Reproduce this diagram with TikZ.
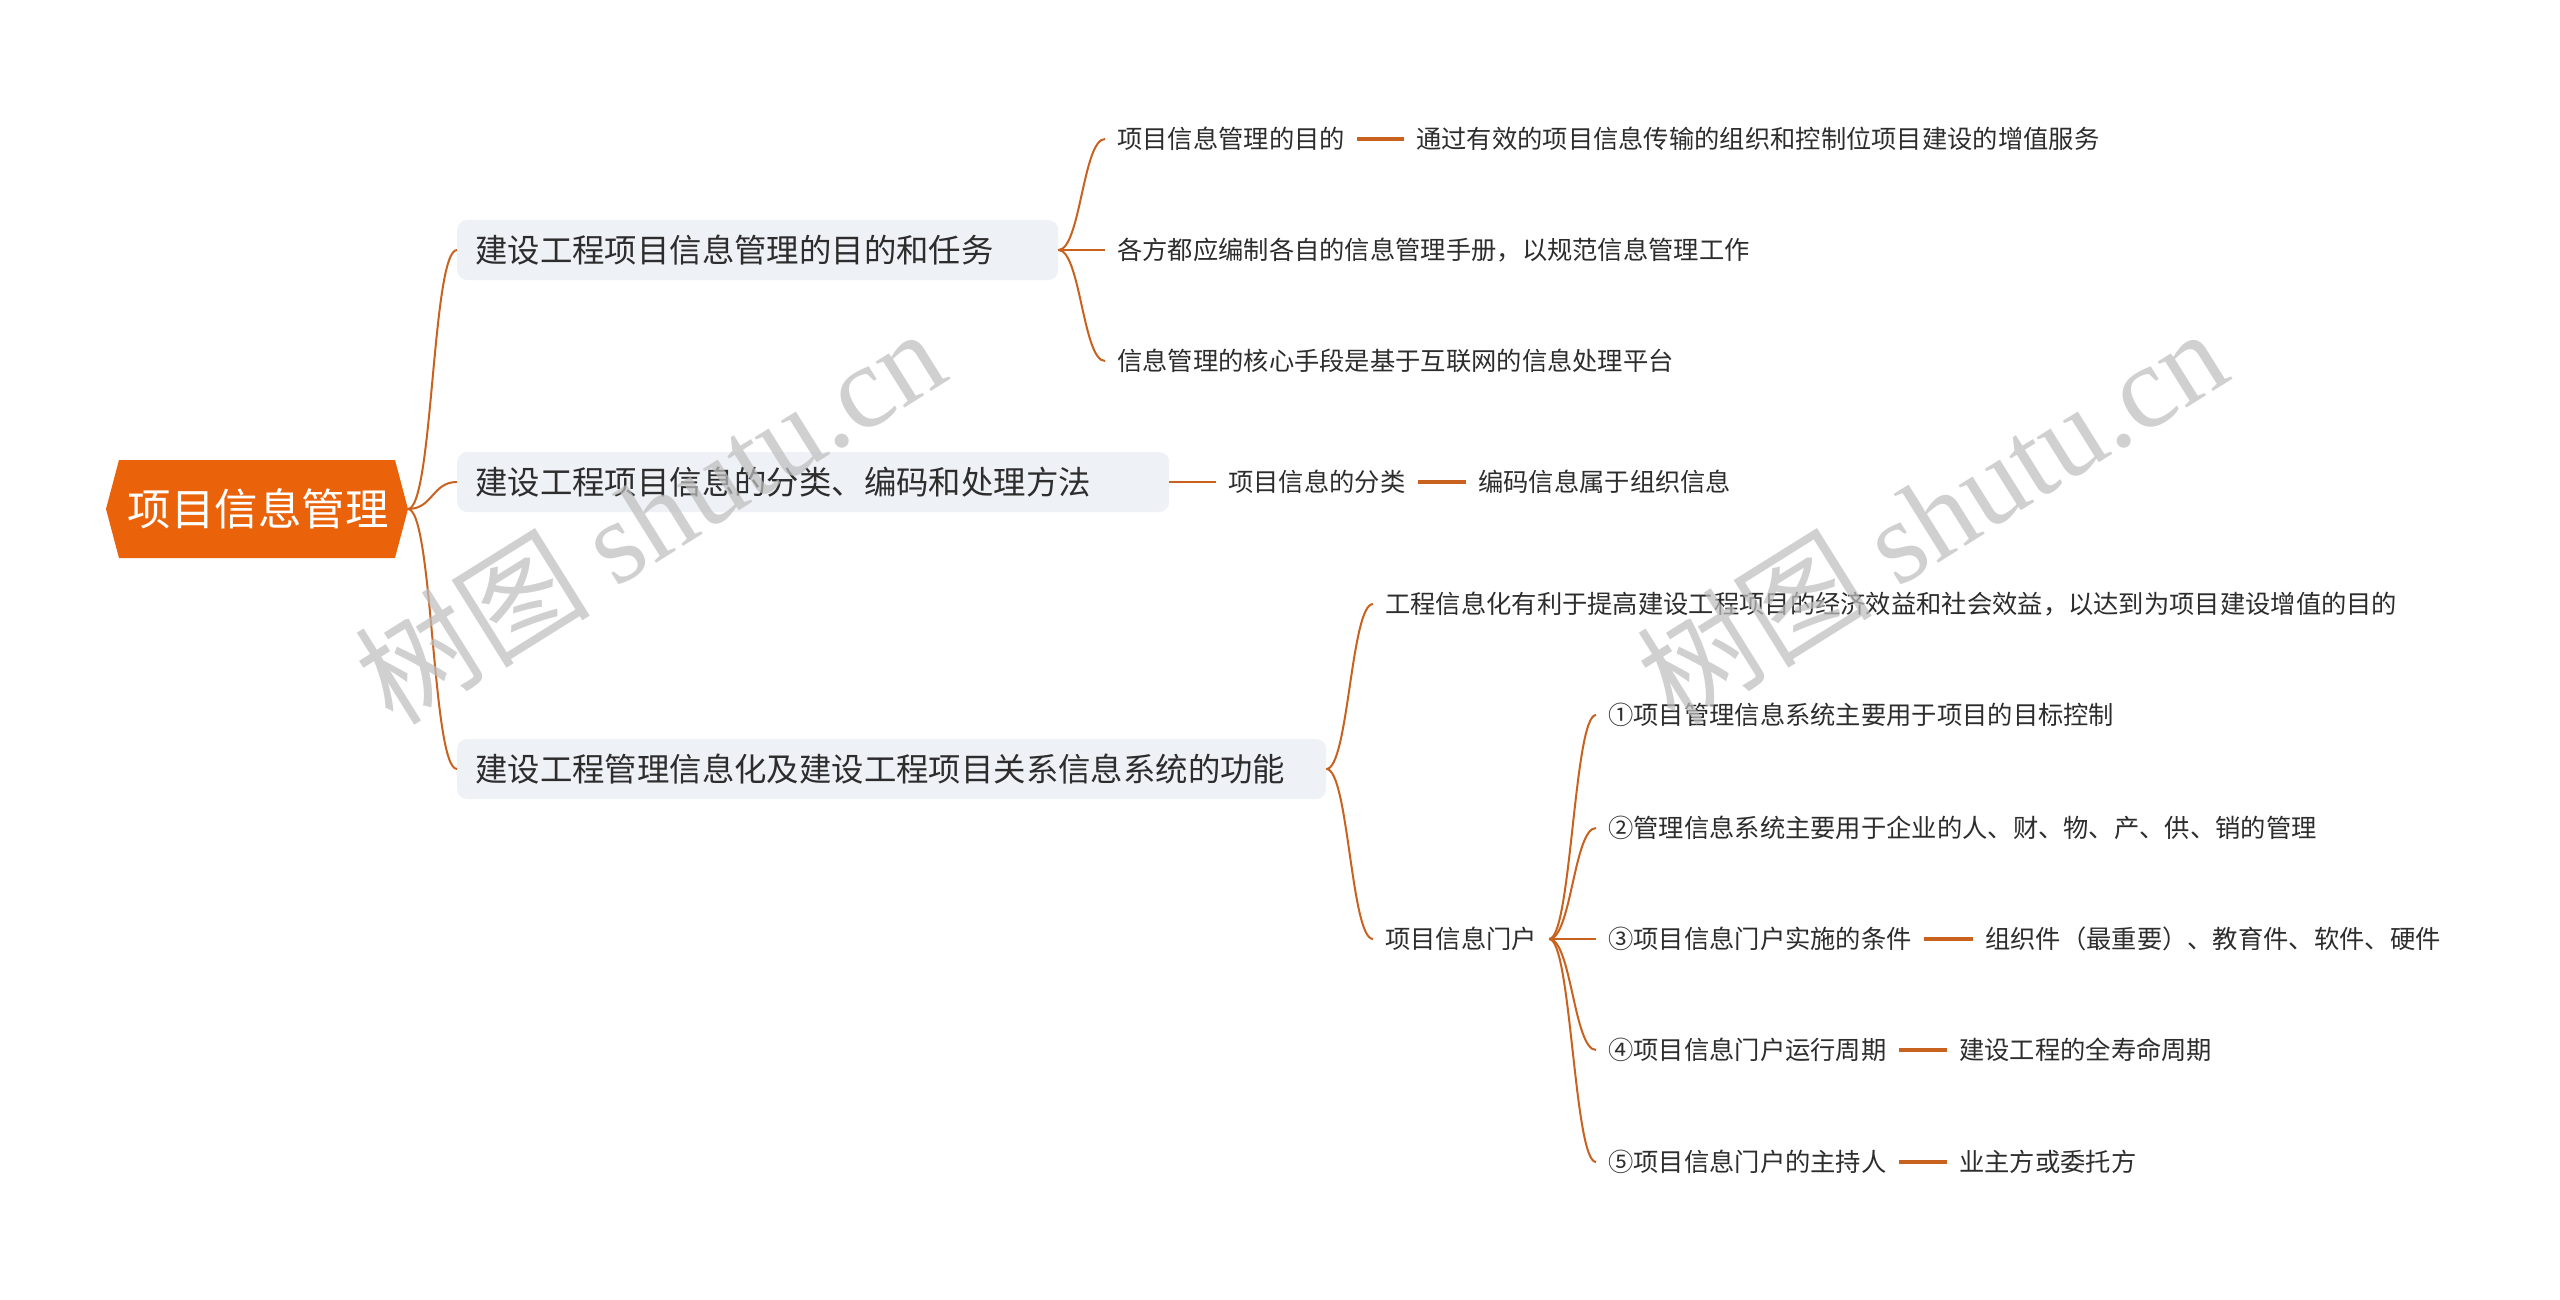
\documentclass[tikz,border=0pt]{standalone}
\usepackage{fontspec}
\setmainfont{Noto Sans CJK SC}
\newfontfamily\wmlatin{Liberation Serif}
\usetikzlibrary{calc}
\definecolor{rootorange}{RGB}{234,98,10}
\definecolor{linec}{RGB}{200,98,30}
\definecolor{boxgray}{RGB}{238,241,245}
\definecolor{textc}{RGB}{45,45,45}
\definecolor{wmgray}{RGB}{190,190,190}
\newcommand\mmlink[2]{\draw[link] (#1) .. controls ($(#1)+(22,0)$) and ($(#2)+(-22,0)$) .. (#2);}
\begin{document}
\begin{tikzpicture}[x=1pt,y=-1pt,
  l1/.style={fill=boxgray, rounded corners=10pt, inner xsep=18pt, inner ysep=0pt, minimum height=60pt, anchor=west, align=left, text=textc, font=\fontsize{32.4}{38}\selectfont},
  l2/.style={anchor=west, inner xsep=12pt, inner ysep=3pt, text=textc, font=\fontsize{25.3}{30}\selectfont},
  link/.style={draw=linec, line width=2pt},
  dashlink/.style={draw=linec, line width=3.2pt},
  wm/.style={rotate=32, text=wmgray, opacity=0.72, font=\fontsize{118}{118}\selectfont}
]
\useasboundingbox (0,0) rectangle (2560,1300);
\fill[white] (0,0) rectangle (2560,1300);

% root
\fill[rootorange] (106,509) -- (119,460) -- (395,460) -- (408,509) -- (395,558) -- (119,558) -- cycle;
\node[text=white, font=\fontsize{43.5}{48}\selectfont, inner sep=0pt] (root) at (258,509) {项目信息管理};
\coordinate (rootR) at (408,509);

% level 1
\node[l1, text width=565pt] (b1) at (457,250) {建设工程项目信息管理的目的和任务};
\node[l1, text width=676pt] (b2) at (457,482) {建设工程项目信息的分类、编码和处理方法};
\node[l1, text width=833pt] (b3) at (457,769) {建设工程管理信息化及建设工程项目关系信息系统的功能};

\draw[link] (rootR) .. controls ($(rootR)+(25,0)$) and ($(b1.west)+(-25,0)$) .. (b1.west);
\draw[link] (rootR) .. controls ($(rootR)+(25,0)$) and ($(b2.west)+(-25,0)$) .. (b2.west);
\draw[link] (rootR) .. controls ($(rootR)+(25,0)$) and ($(b3.west)+(-25,0)$) .. (b3.west);

% branch 1
\node[l2] (a1) at (1105,139) {项目信息管理的目的};
\node[l2] (a1r) at (1404,139) {通过有效的项目信息传输的组织和控制位项目建设的增值服务};
\node[l2] (a2) at (1105,250) {各方都应编制各自的信息管理手册，以规范信息管理工作};
\node[l2] (a3) at (1105,361) {信息管理的核心手段是基于互联网的信息处理平台};
\mmlink{b1.east}{a1.west}
\mmlink{b1.east}{a2.west}
\mmlink{b1.east}{a3.west}
\draw[dashlink] (a1.east) -- (a1r.west);

% branch 2
\node[l2] (c0) at (1216,482) {项目信息的分类};
\node[l2] (c0r) at (1466,482) {编码信息属于组织信息};
\draw[link] (b2.east) -- (c0.west);
\draw[dashlink] (c0.east) -- (c0r.west);

% branch 3
\node[l2] (c1) at (1373,604) {工程信息化有利于提高建设工程项目的经济效益和社会效益，以达到为项目建设增值的目的};
\node[l2] (c2) at (1373,939) {项目信息门户};
\mmlink{b3.east}{c1.west}
\mmlink{b3.east}{c2.west}

\node[l2] (d1) at (1596,715) {①项目管理信息系统主要用于项目的目标控制};
\node[l2] (d2) at (1596,828) {②管理信息系统主要用于企业的人、财、物、产、供、销的管理};
\node[l2] (d3) at (1596,939) {③项目信息门户实施的条件};
\node[l2] (d3r) at (1973,939) {组织件（最重要）、教育件、软件、硬件};
\node[l2] (d4) at (1596,1050) {④项目信息门户运行周期};
\node[l2] (d4r) at (1947,1050) {建设工程的全寿命周期};
\node[l2] (d5) at (1596,1162) {⑤项目信息门户的主持人};
\node[l2] (d5r) at (1947,1162) {业主方或委托方};
\mmlink{c2.east}{d1.west}
\mmlink{c2.east}{d2.west}
\mmlink{c2.east}{d3.west}
\mmlink{c2.east}{d4.west}
\mmlink{c2.east}{d5.west}
\draw[dashlink] (d3.east) -- (d3r.west);
\draw[dashlink] (d4.east) -- (d4r.west);
\draw[dashlink] (d5.east) -- (d5r.west);

% watermark
\node[wm] (wm1) at (649,515) {树图 {\wmlatin shutu.cn}};
\node[wm] (wm2) at (1931,515) {树图 {\wmlatin shutu.cn}};
\end{tikzpicture}
\end{document}
